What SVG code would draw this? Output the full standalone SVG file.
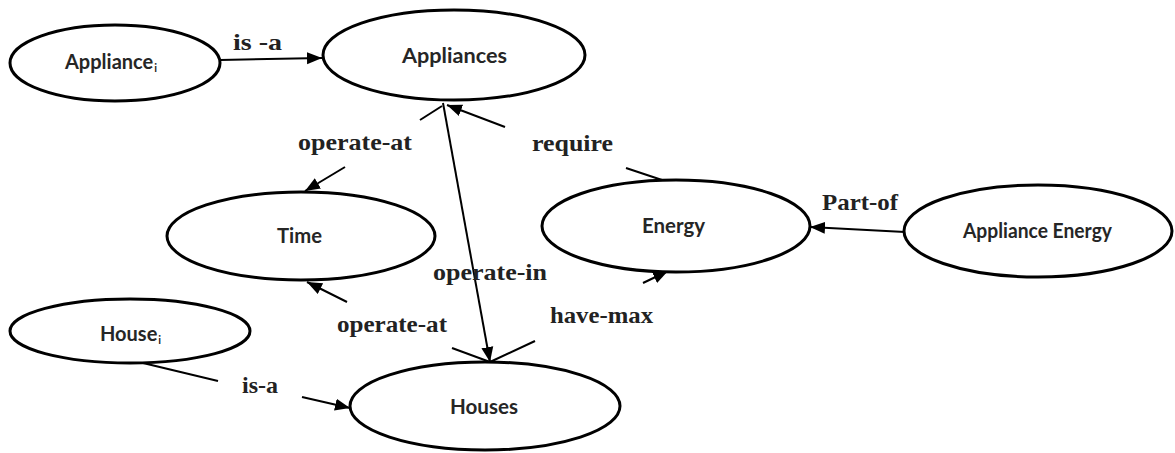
<svg xmlns="http://www.w3.org/2000/svg" width="1175" height="453" viewBox="0 0 1175 453">
<style>
.node ellipse{fill:#fff;stroke:#000;stroke-width:3}
.node text{font-family:Lato,"Open Sans","Liberation Sans",sans-serif;font-weight:700;font-size:20px;fill:#262626}
.sub{font-size:11px}
.edge line{stroke:#000;stroke-width:2}
.lbl{font-family:"Liberation Serif","Times New Roman",serif;font-weight:700;font-size:23px;fill:#222}
</style>
<defs>
<marker id="ah" markerUnits="userSpaceOnUse" markerWidth="16" markerHeight="14" viewBox="0 0 16 14" refX="15" refY="7" orient="auto">
<path d="M0,1 L15,7 L0,13 Z" fill="#000"/>
</marker>
</defs>
<g id="connectors" class="edge">
<line x1="220" y1="60" x2="322" y2="58" marker-end="url(#ah)"/>
<line x1="420" y1="120" x2="442" y2="106"/>
<line x1="345" y1="167" x2="305" y2="191" marker-end="url(#ah)"/>
<line x1="626" y1="168" x2="665" y2="181"/>
<line x1="505" y1="127" x2="447" y2="105" marker-end="url(#ah)"/>
<line x1="443" y1="103" x2="490" y2="362" marker-end="url(#ah)"/>
<line x1="452" y1="348" x2="490" y2="362"/>
<line x1="347" y1="302" x2="307" y2="282" marker-end="url(#ah)"/>
<line x1="535" y1="341" x2="490" y2="362"/>
<line x1="643" y1="283" x2="668" y2="271" marker-end="url(#ah)"/>
<line x1="905" y1="232" x2="810" y2="227" marker-end="url(#ah)"/>
<line x1="143" y1="363" x2="218" y2="381"/>
<line x1="302" y1="397" x2="350" y2="408" marker-end="url(#ah)"/>
</g>
<g id="labels">
<text class="lbl" x="233" y="50" textLength="49" lengthAdjust="spacingAndGlyphs">is -a</text>
<text class="lbl" x="298" y="150" textLength="114" lengthAdjust="spacingAndGlyphs">operate-at</text>
<text class="lbl" x="532" y="151" textLength="81" lengthAdjust="spacingAndGlyphs">require</text>
<text class="lbl" x="822" y="210" textLength="76" lengthAdjust="spacingAndGlyphs">Part-of</text>
<text class="lbl" x="433" y="280" textLength="114" lengthAdjust="spacingAndGlyphs">operate-in</text>
<text class="lbl" x="337" y="332" textLength="110" lengthAdjust="spacingAndGlyphs">operate-at</text>
<text class="lbl" x="550" y="323" textLength="103" lengthAdjust="spacingAndGlyphs">have-max</text>
<text class="lbl" x="242" y="393" textLength="36" lengthAdjust="spacingAndGlyphs">is-a</text>
</g>
<g id="node-appliance-i" class="node">
<ellipse cx="115" cy="63" rx="105" ry="38"/>
<text x="65" y="69">Appliance<tspan class="sub" dx="1" dy="3">i</tspan></text>
</g>
<g id="node-appliances" class="node">
<ellipse cx="454" cy="55" rx="131" ry="45"/>
<text x="402" y="63" textLength="105" lengthAdjust="spacingAndGlyphs">Appliances</text>
</g>
<g id="node-time" class="node">
<ellipse cx="301" cy="236" rx="134" ry="44"/>
<text x="277" y="243" textLength="45" lengthAdjust="spacingAndGlyphs">Time</text>
</g>
<g id="node-energy" class="node">
<ellipse cx="676" cy="226" rx="134" ry="46"/>
<text x="642" y="233" textLength="63" lengthAdjust="spacingAndGlyphs">Energy</text>
</g>
<g id="node-appliance-energy" class="node">
<ellipse cx="1038" cy="231" rx="134" ry="46"/>
<text x="963" y="238" textLength="149" lengthAdjust="spacingAndGlyphs">Appliance Energy</text>
</g>
<g id="node-house-i" class="node">
<ellipse cx="130" cy="331" rx="120" ry="32"/>
<text x="100" y="341">House<tspan class="sub" dx="1" dy="3">i</tspan></text>
</g>
<g id="node-houses" class="node">
<ellipse cx="485" cy="406" rx="135" ry="44"/>
<text x="450" y="414" textLength="68" lengthAdjust="spacingAndGlyphs">Houses</text>
</g>
</svg>
